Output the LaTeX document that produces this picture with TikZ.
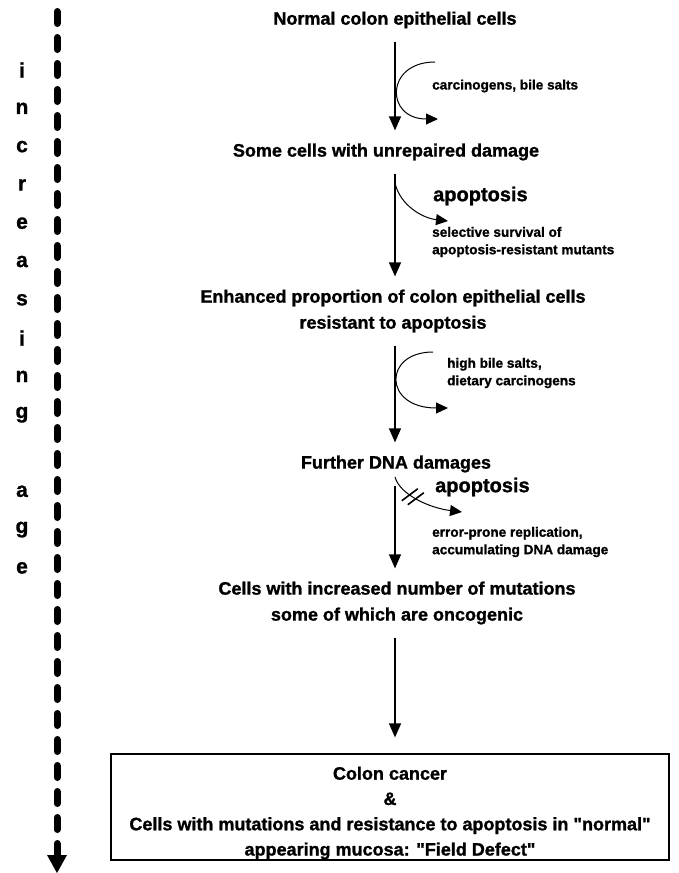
\documentclass[tikz,border=0pt]{standalone}
\usepackage{fontspec}
\setmainfont[Ligatures=TeXOff,BoldFeatures={FakeBold=1.2}]{Liberation Sans}
\usetikzlibrary{arrows.meta}
\begin{document}
\begin{tikzpicture}[x=1pt,y=-1pt,
  title/.style={font=\fontsize{18}{26}\selectfont\bfseries, align=center, inner sep=0pt},
  small/.style={font=\fontsize{13.6}{17.5}\selectfont\bfseries, align=left, inner sep=0pt, anchor=west},
  big/.style={font=\fontsize{20}{24}\selectfont\bfseries, inner sep=0pt, anchor=west},
  flow/.style={line width=1.3pt, shorten <=13pt, shorten >=13pt, -{Triangle[length=14pt,width=12pt]}},
  side/.style={line width=1pt, -{Triangle[length=12pt,width=11pt]}},
  agel/.style={font=\fontsize{21}{22}\selectfont\bfseries, inner sep=0pt},
  agearrow/.style={line width=7pt, line cap=round, dash pattern=on 12pt off 14pt, -{Triangle[length=18pt,width=20pt,line width=0pt]}},
  boxstyle/.style={draw, line width=1.2pt, minimum width=558pt, minimum height=106pt, inner sep=0pt}
]
\useasboundingbox (0,0) rectangle (678,873);

% age axis
\coordinate (agetop) at (57,11.5);
\coordinate (agebot) at (57,873);
\draw[agearrow] (agetop) -- (agebot);
\node[agel] (L1) at (22,70) {i};
\node[agel] (L2) at (22,108.3) {n};
\node[agel] (L3) at (22,146.6) {c};
\node[agel] (L4) at (22,184.9) {r};
\node[agel] (L5) at (22,223.2) {e};
\node[agel] (L6) at (22,261.5) {a};
\node[agel] (L7) at (22,299.8) {s};
\node[agel] (L8) at (22,338.1) {i};
\node[agel] (L9) at (22,376.4) {n};
\node[agel] (L10) at (22,414.7) {g};
\node[agel] (L11) at (22,491.3) {a};
\node[agel] (L12) at (22,529.6) {g};
\node[agel] (L13) at (22,567.9) {e};

% main flow
\node[title] (t1) at (395,20) {Normal colon epithelial cells};
\node[title] (t2) at (386,152) {Some cells with unrepaired damage};
\node[title] (t3) at (393,311) {Enhanced proportion of colon epithelial cells\\resistant to apoptosis};
\node[title] (t4) at (396,464) {Further DNA damages};
\node[title] (t5) at (397,603) {Cells with increased number of mutations\\some of which are oncogenic};
\node[boxstyle] (box) at (390,807) {};
\node[title, font=\fontsize{18}{25.3}\selectfont\bfseries] (boxtext) at (390,813) {Colon cancer\\\&\\Cells with mutations and resistance to apoptosis in "normal"\\appearing mucosa: "Field Defect"};

\draw[flow] (t1.south -| 395,0) -- (t2.north -| 395,0);
\draw[flow] (t2.south -| 395,0) -- (t3.north -| 395,0);
\draw[flow] (t3.south -| 395,0) -- (t4.north -| 395,0);
\draw[flow] (t4.south -| 395,0) -- (t5.north -| 395,0);
\draw[flow, shorten >=16pt] (t5.south -| 395,0) -- (box.north -| 395,0);

% side arrow 1
\coordinate (c1s) at (435,62);
\coordinate (c1e) at (438,119);
\draw[side] (c1s) .. controls (385,62) and (385,119) .. (c1e);
\node[small] (s1) at (432,86) {carcinogens, bile salts};

% side arrow 2
\coordinate (c2s) at (395,183);
\coordinate (c2e) at (448,221);
\draw[side] (c2s) .. controls (400,205) and (422,218) .. (c2e);
\node[big] (a1) at (433,196) {apoptosis};
\node[small] (s2) at (432,242) {selective survival of\\apoptosis-resistant mutants};

% side arrow 3
\coordinate (c3s) at (433,352);
\coordinate (c3e) at (448,408);
\draw[side] (c3s) .. controls (383,352) and (383,408) .. (c3e);
\node[small] (s3) at (447,373) {high bile salts,\\dietary carcinogens};

% side arrow 4 (blocked)
\coordinate (c4s) at (395,477);
\coordinate (c4e) at (462,512);
\draw[side] (c4s) .. controls (400,495) and (430,508) .. coordinate[pos=0.42] (brk) (c4e);
\draw[line width=1.6pt] ([shift={(-11,4)}]brk) -- ([shift={(5,-8)}]brk);
\draw[line width=1.6pt] ([shift={(-5,8)}]brk) -- ([shift={(11,-4)}]brk);
\node[big] (a2) at (435,487) {apoptosis};
\node[small] (s4) at (432,542) {error-prone replication,\\accumulating DNA damage};
\end{tikzpicture}
\end{document}
